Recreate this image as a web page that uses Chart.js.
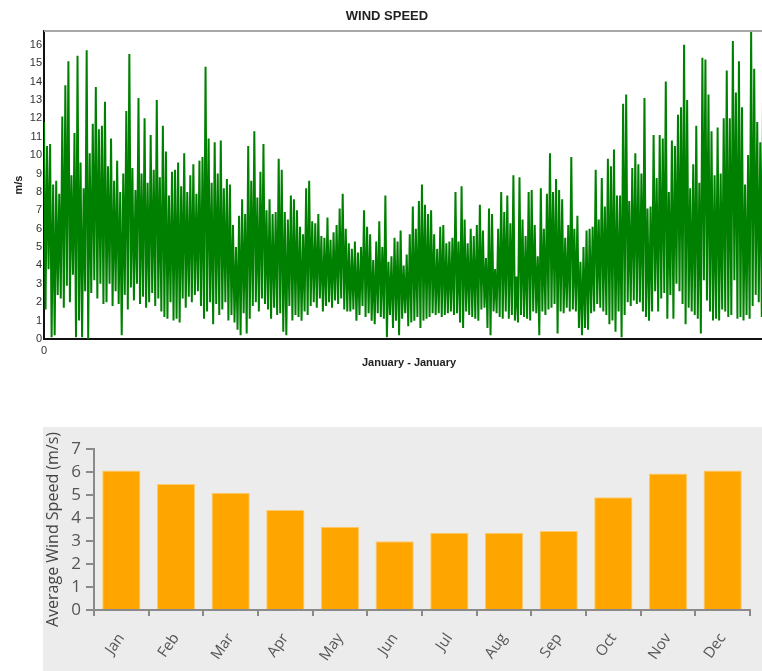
<!DOCTYPE html>
<html>
<head>
<meta charset="utf-8">
<title>Wind Speed</title>
<script src="https://cdn.jsdelivr.net/npm/chart.js@4.4.1/dist/chart.umd.min.js"></script>
<style>
  html, body { margin: 0; padding: 0; background: #ffffff; width: 762px; height: 671px; overflow: hidden; }
  #top { position: absolute; left: 0; top: 0; width: 762px; height: 378px; overflow: hidden; }
  #bottom { position: absolute; left: 43px; top: 427px; width: 719px; height: 244px; background: #ececec; }
  canvas { display: block; }
</style>
</head>
<body>
<div id="top"><canvas id="wind" width="784" height="378"></canvas></div>
<div id="bottom"><canvas id="avg" width="719" height="244"></canvas></div>
<script>
// Wind speed through the year (m/s), month by month, as alternating gust / lull readings
const jan = [11.8,1.6, 10.5,3.8, 10.6,0.1, 8.4,0.2, 8.6,2.4, 7.9,2.2, 12.1,1.7, 13.8,2.9, 15.1,2.0, 8.9,3.5, 11.2,0.1, 15.4,1.0, 9.6,0.1, 8.2,2.6, 15.7,0.0, 10.1,2.5, 11.7,3.2, 13.7,2.2, 11.4,3.0, 11.6,1.9];
const feb = [12.9,2.0, 9.4,3.0, 10.9,1.8, 8.6,2.6, 9.7,1.9, 8.0,0.2, 9.0,2.4, 12.4,1.6, 15.5,2.8, 9.3,2.1, 8.1,3.0, 13.1,1.9, 9.0,2.3, 12.0,1.7, 8.5,2.0, 11.1,2.5, 9.2,1.8, 13.0,2.2, 8.8,1.5, 11.6,1.2];
const mar = [10.2,1.1, 7.8,2.0, 9.1,1.0, 9.2,1.1, 9.6,0.9, 8.3,2.2, 10.1,1.7, 8.0,2.3, 8.9,2.0, 9.5,2.4, 7.9,2.6, 9.7,1.8, 9.9,1.1, 14.8,1.5, 10.9,2.0, 8.5,0.8, 10.7,1.9, 9.0,1.3, 10.8,1.6, 8.2,2.0];
const apr = [8.7,1.0, 8.4,1.3, 6.2,0.9, 5.0,0.5, 6.7,0.2, 7.6,1.4, 6.8,0.3, 10.5,1.1, 8.6,1.8, 11.3,2.0, 7.7,1.5, 9.1,2.2, 10.6,1.9, 7.0,1.6, 7.6,1.1, 6.8,1.7, 6.9,1.3, 9.8,1.4, 9.2,0.4, 6.9,0.2];
const may = [6.5,1.8, 7.8,1.0, 7.6,1.3, 7.0,1.2, 6.1,1.0, 5.7,1.5, 8.2,1.3, 8.6,1.8, 6.4,2.0, 6.3,1.7, 6.8,2.2, 5.6,1.5, 5.5,1.8, 6.6,2.0, 5.4,1.7, 5.8,2.1, 6.2,1.9, 7.1,2.2, 7.9,1.6, 6.0,1.5];
const jun = [5.2,1.5, 4.9,1.6, 5.3,1.0, 4.7,1.3, 5.0,1.8, 7.0,1.2, 6.1,1.4, 5.7,1.0, 4.3,0.8, 5.3,1.4, 6.4,1.2, 5.0,1.1, 7.8,0.1, 4.2,1.3, 4.5,0.6, 5.5,1.0, 5.3,0.2, 5.9,1.1, 4.0,1.4, 4.6,0.7];
const jul = [5.7,0.9, 7.2,1.0, 6.0,1.2, 7.5,0.6, 8.4,1.0, 7.3,1.1, 6.8,1.2, 7.0,1.4, 5.7,1.3, 4.9,1.4, 6.1,1.2, 6.2,1.3, 5.2,1.4, 5.3,1.5, 5.5,1.3, 8.0,1.4, 5.3,0.9, 8.3,0.6, 6.5,1.5, 5.2,1.3];
const aug = [6.0,1.2, 5.6,1.1, 6.2,1.0, 7.3,1.6, 5.9,1.7, 4.4,0.6, 7.1,0.2, 6.8,1.5, 3.8,1.4, 6.0,1.2, 8.0,1.1, 6.9,1.5, 7.8,1.1, 6.3,1.3, 8.9,1.0, 3.4,0.9, 8.8,1.3, 6.5,1.2, 5.6,1.1, 8.0,1.0];
const sep = [8.1,1.5, 6.2,1.4, 4.5,0.2, 8.2,1.5, 6.0,1.3, 7.9,1.6, 10.1,1.7, 8.0,1.9, 8.7,0.3, 8.1,1.5, 7.6,1.4, 5.5,1.7, 6.2,1.5, 9.9,1.6, 6.0,1.5, 6.7,0.6, 4.2,0.2, 5.0,0.6, 5.9,0.5, 6.0,1.4];
const oct = [6.1,1.5, 9.2,1.9, 6.5,1.7, 8.75,1.5, 7.2,1.3, 9.8,0.8, 9.4,1.0, 10.3,0.4, 7.8,1.5, 7.8,0.1, 12.8,1.3, 13.3,2.0, 7.5,1.8, 9.3,2.1, 10.1,1.9, 9.5,2.0, 9.0,1.5, 13.1,1.2, 7.1,1.0, 7.2,1.5];
const nov = [11.1,2.6, 8.75,1.5, 11.1,2.2, 10.9,2.5, 14.0,1.1, 8.0,2.4, 10.8,1.1, 10.5,3.0, 12.2,2.6, 12.6,1.9, 16.0,0.8, 13.0,1.7, 8.2,1.5, 9.5,1.3, 11.6,1.1, 8.5,0.3, 15.3,3.2, 15.2,2.1, 13.3,1.5, 11.3,1.0];
const dec = [8.9,1.1, 11.5,1.0, 9.0,1.6, 12.0,1.5, 14.6,1.2, 12.0,1.3, 16.2,3.2, 13.4,1.1, 15.1,1.2, 12.6,1.0, 8.4,1.3, 10.0,1.1, 16.7,1.8, 14.7,2.4, 11.8,2.0, 10.7,1.2, 16.4,2.8, 12.2,2.0, 13.1,1.7, 11.4,2.3];

// Monthly averages (m/s)
const months = ['Jan','Feb','Mar','Apr','May','Jun','Jul','Aug','Sep','Oct','Nov','Dec'];
const avgSpeed = [6.06, 5.48, 5.10, 4.35, 3.62, 2.99, 3.36, 3.36, 3.43, 4.90, 5.94, 6.06];

const series = [].concat(jan, feb, mar, apr, may, jun, jul, aug, sep, oct, nov, dec);
const points = series.map((v, i) => ({ x: i, y: v }));

// grey frame along the top and right of the plot area
const plotFrame = {
  id: 'plotFrame',
  beforeDatasetsDraw(chart) {
    const { ctx, chartArea: a } = chart;
    ctx.save();
    ctx.strokeStyle = '#a8a8a8';
    ctx.lineWidth = 2;
    ctx.beginPath();
    ctx.moveTo(a.left, a.top);
    ctx.lineTo(a.right, a.top);
    ctx.lineTo(a.right, a.bottom);
    ctx.stroke();
    ctx.restore();
  }
};

const sans = 'Liberation Sans, Arial, sans-serif';

new Chart(document.getElementById('wind'), {
  type: 'line',
  data: {
    datasets: [{
      data: points,
      borderColor: '#008000',
      borderWidth: 2,
      pointRadius: 0,
      tension: 0,
      fill: false
    }]
  },
  options: {
    responsive: false,
    animation: false,
    devicePixelRatio: 1,
    layout: { padding: { right: 10 } },
    plugins: {
      legend: { display: false },
      tooltip: { enabled: false },
      title: {
        display: true,
        text: 'WIND SPEED',
        color: '#222222',
        font: { family: sans, size: 13, weight: 'bold' },
        padding: { top: 9, bottom: 6.4 }
      }
    },
    scales: {
      x: {
        type: 'linear',
        min: 0,
        max: series.length - 1,
        grid: { display: false, drawTicks: false },
        border: { display: true, color: '#111111', width: 2 },
        afterBuildTicks: s => { s.ticks = [{ value: 0 }]; },
        ticks: { color: '#333333', font: { family: sans, size: 11 }, padding: 5, maxRotation: 0 },
        title: {
          display: true,
          text: 'January - January',
          color: '#222222',
          font: { family: sans, size: 11, weight: 'bold' },
          padding: { top: 0, bottom: 8 }
        },
        afterFit: s => { s.height = 39; }
      },
      y: {
        min: 0,
        max: 16.75,
        grid: { display: false, drawTicks: false },
        border: { display: true, color: '#111111', width: 2 },
        ticks: { stepSize: 1, includeBounds: false, autoSkip: false, color: '#333333', font: { family: sans, size: 11 }, padding: 2 },
        title: {
          display: true,
          text: 'm/s',
          color: '#222222',
          font: { family: sans, size: 11, weight: 'bold' },
          padding: { top: 12, bottom: 0 }
        },
        afterFit: s => { s.width = 44; }
      }
    }
  },
  plugins: [plotFrame]
});

const ui = 'Open Sans, Noto Sans, sans-serif';

new Chart(document.getElementById('avg'), {
  type: 'bar',
  data: {
    labels: months,
    datasets: [{
      data: avgSpeed,
      backgroundColor: '#FFA500',
      borderColor: '#FFCB6E',
      borderWidth: 1,
      barPercentage: 0.7,
      categoryPercentage: 1.0
    }]
  },
  options: {
    responsive: false,
    animation: false,
    devicePixelRatio: 1,
    layout: { padding: { top: 22, right: 12 } },
    plugins: {
      legend: { display: false },
      tooltip: { enabled: false }
    },
    scales: {
      x: {
        grid: { drawOnChartArea: false, tickLength: 6, color: '#8a8a8a', lineWidth: 2 },
        border: { color: '#8a8a8a', width: 2 },
        ticks: { minRotation: 55, maxRotation: 55, color: '#555555', font: { family: ui, size: 15 }, padding: 14 },
        afterFit: s => { s.height = 61; }
      },
      y: {
        min: 0,
        max: 7,
        grid: { drawOnChartArea: false, tickLength: 8, color: '#8a8a8a', lineWidth: 2 },
        border: { color: '#8a8a8a', width: 2 },
        ticks: { stepSize: 1, autoSkip: false, color: '#555555', font: { family: ui, size: 17 }, padding: 5 },
        title: {
          display: true,
          text: 'Average Wind Speed (m/s)',
          color: '#444444',
          font: { family: ui, size: 16 },
          padding: { top: 1, bottom: 0 }
        },
        afterFit: s => { s.width = 51; }
      }
    }
  }
});
</script>
</body>
</html>
